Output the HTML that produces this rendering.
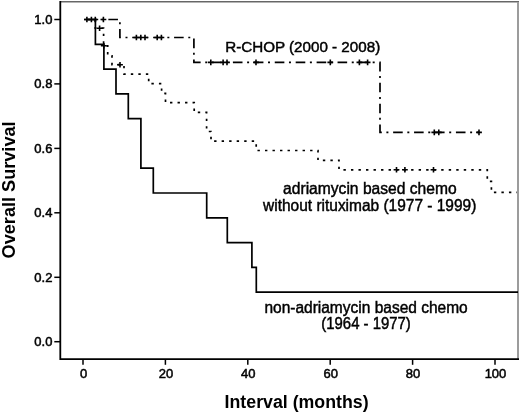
<!DOCTYPE html>
<html><head><meta charset="utf-8"><style>
html,body{margin:0;padding:0;background:#fff;width:520px;height:414px;overflow:hidden}
svg{display:block;filter:grayscale(1)}
.t{font-family:"Liberation Sans",sans-serif;font-size:13px;fill:#000;stroke:#000;stroke-width:0.5px}
.l{font-family:"Liberation Sans",sans-serif;font-size:15px;fill:#000;stroke:#000;stroke-width:0.45px}
.m{font-family:"Liberation Sans",sans-serif;font-size:16px;fill:#000;stroke:#000;stroke-width:0.45px}
.b{font-family:"Liberation Sans",sans-serif;font-size:17.6px;font-weight:bold;fill:#000}
</style></head><body>
<svg width="520" height="414" viewBox="0 0 520 414">
<rect x="0" y="0" width="520" height="414" fill="#fff"/>
<rect x="60" y="1" width="459" height="1" fill="#666"/>
<rect x="60" y="2" width="457" height="1" fill="#b4b4b4"/>
<rect x="517" y="2" width="2" height="357" fill="#9c9c9c"/>
<path d="M60.3,1 V359.2 H519" fill="none" stroke="#000" stroke-width="1.8"/>
<line x1="54.3" y1="341.7" x2="60" y2="341.7" stroke="#000" stroke-width="1.5"/>
<text x="52.4" y="346.1" text-anchor="end" class="t">0.0</text>
<line x1="54.3" y1="277.3" x2="60" y2="277.3" stroke="#000" stroke-width="1.5"/>
<text x="52.4" y="281.7" text-anchor="end" class="t">0.2</text>
<line x1="54.3" y1="212.8" x2="60" y2="212.8" stroke="#000" stroke-width="1.5"/>
<text x="52.4" y="217.2" text-anchor="end" class="t">0.4</text>
<line x1="54.3" y1="148.4" x2="60" y2="148.4" stroke="#000" stroke-width="1.5"/>
<text x="52.4" y="152.8" text-anchor="end" class="t">0.6</text>
<line x1="54.3" y1="83.9" x2="60" y2="83.9" stroke="#000" stroke-width="1.5"/>
<text x="52.4" y="88.3" text-anchor="end" class="t">0.8</text>
<line x1="54.3" y1="19.5" x2="60" y2="19.5" stroke="#000" stroke-width="1.5"/>
<text x="52.4" y="23.9" text-anchor="end" class="t">1.0</text>
<line x1="83.0" y1="359" x2="83.0" y2="364.8" stroke="#000" stroke-width="1.5"/>
<text x="83.5" y="378.0" text-anchor="middle" class="t">0</text>
<line x1="165.4" y1="359" x2="165.4" y2="364.8" stroke="#000" stroke-width="1.5"/>
<text x="165.9" y="378.0" text-anchor="middle" class="t">20</text>
<line x1="247.8" y1="359" x2="247.8" y2="364.8" stroke="#000" stroke-width="1.5"/>
<text x="248.3" y="378.0" text-anchor="middle" class="t">40</text>
<line x1="330.2" y1="359" x2="330.2" y2="364.8" stroke="#000" stroke-width="1.5"/>
<text x="330.7" y="378.0" text-anchor="middle" class="t">60</text>
<line x1="412.6" y1="359" x2="412.6" y2="364.8" stroke="#000" stroke-width="1.5"/>
<text x="413.1" y="378.0" text-anchor="middle" class="t">80</text>
<line x1="495.0" y1="359" x2="495.0" y2="364.8" stroke="#000" stroke-width="1.5"/>
<text x="495.5" y="378.0" text-anchor="middle" class="t">100</text>
<path d="M84.3,19.5 L95.4,19.5 L95.4,44.3 L103.9,44.3 L103.9,69.1 L116.0,69.1 L116.0,93.9 L128.3,93.9 L128.3,118.6 L140.9,118.6 L140.9,168.2 L153.3,168.2 L153.3,193.0 L206.7,193.0 L206.7,217.8 L227.3,217.8 L227.3,242.6 L251.9,242.6 L251.9,267.4 L256.3,267.4 L256.3,292.2 L518.0,292.2" fill="none" stroke="#000" stroke-width="1.7"/>
<path d="M84.3,19.5 L95.3,19.5 L95.3,28.2 L103.6,28.2 L103.6,45.8 L107.7,45.8 L107.7,55.9 L112.0,55.9 L112.0,64.7 L124.0,64.7 L124.0,74.1 L148.7,74.1 L148.7,83.6 L161.6,83.6 L161.6,93.3 L165.5,93.3 L165.5,102.6 L194.2,102.6 L194.2,112.4 L206.6,112.4 L206.6,131.5 L211.0,131.5 L211.0,141.2 L256.2,141.2 L256.2,150.5 L318.0,150.5 L318.0,160.3 L339.0,160.3 L339.0,169.8 L487.3,169.8 L487.3,181.3 L491.4,181.3 L491.4,192.3 L517.0,192.3" fill="none" stroke="#000" stroke-width="1.7" stroke-dasharray="2.4 5.12" stroke-dashoffset="4.16"/>
<path d="M84.3,19.5 L119.9,19.5 L119.9,37.5 L193.9,37.5 L193.9,62.4 L380.0,62.4 L380.0,132.4 L479.0,132.4" fill="none" stroke="#000" stroke-width="1.7" stroke-dasharray="9.6 4.6 2 4.73" stroke-dashoffset="17.8"/>
<path d="M84.0,19.5h5.8M86.9,16.7v5.6 M88.5,19.5h5.8M91.4,16.7v5.6 M92.4,19.5h5.8M95.3,16.7v5.6 M100.5,19.5h5.8M103.4,16.7v5.6 M96.7,28.2h5.8M99.6,25.4v5.6 M100.9,45.8h5.8M103.8,43.0v5.6 M117.1,64.7h5.8M120.0,61.9v5.6 M133.5,37.5h5.8M136.4,34.7v5.6 M137.9,37.5h5.8M140.8,34.7v5.6 M142.1,37.5h5.8M145.0,34.7v5.6 M154.3,37.5h5.8M157.2,34.7v5.6 M158.5,37.5h5.8M161.4,34.7v5.6 M207.9,62.4h5.8M210.8,59.6v5.6 M220.2,62.4h5.8M223.1,59.6v5.6 M224.1,62.4h5.8M227.0,59.6v5.6 M253.1,62.4h5.8M256.0,59.6v5.6 M327.4,62.4h5.8M330.3,59.6v5.6 M356.5,62.4h5.8M359.4,59.6v5.6 M364.7,62.4h5.8M367.6,59.6v5.6 M431.4,132.4h5.8M434.3,129.6v5.6 M435.9,132.4h5.8M438.8,129.6v5.6 M476.1,132.4h5.8M479.0,129.6v5.6 M393.6,169.8h5.8M396.5,167.0v5.6 M402.0,169.8h5.8M404.9,167.0v5.6 M430.6,169.8h5.8M433.5,167.0v5.6" fill="none" stroke="#000" stroke-width="1.6"/>
<text x="225.2" y="52.2" class="l" textLength="155" lengthAdjust="spacingAndGlyphs">R-CHOP (2000 - 2008)</text>
<text x="283.1" y="194.2" class="m" textLength="173.5" lengthAdjust="spacingAndGlyphs">adriamycin based chemo</text>
<text x="263.1" y="210.6" class="m" textLength="213.2" lengthAdjust="spacingAndGlyphs">without rituximab (1977 - 1999)</text>
<text x="264.4" y="313.4" class="m" textLength="203.3" lengthAdjust="spacingAndGlyphs">non-adriamycin based chemo</text>
<text x="321.3" y="328.8" class="m" textLength="89.5" lengthAdjust="spacingAndGlyphs">(1964 - 1977)</text>
<text x="224.6" y="408.3" class="b" textLength="144" lengthAdjust="spacingAndGlyphs">Interval (months)</text>
<text transform="translate(14.6,258.4) rotate(-90)" x="0" y="0" class="b" textLength="137" lengthAdjust="spacingAndGlyphs">Overall Survival</text>
</svg>
</body></html>
